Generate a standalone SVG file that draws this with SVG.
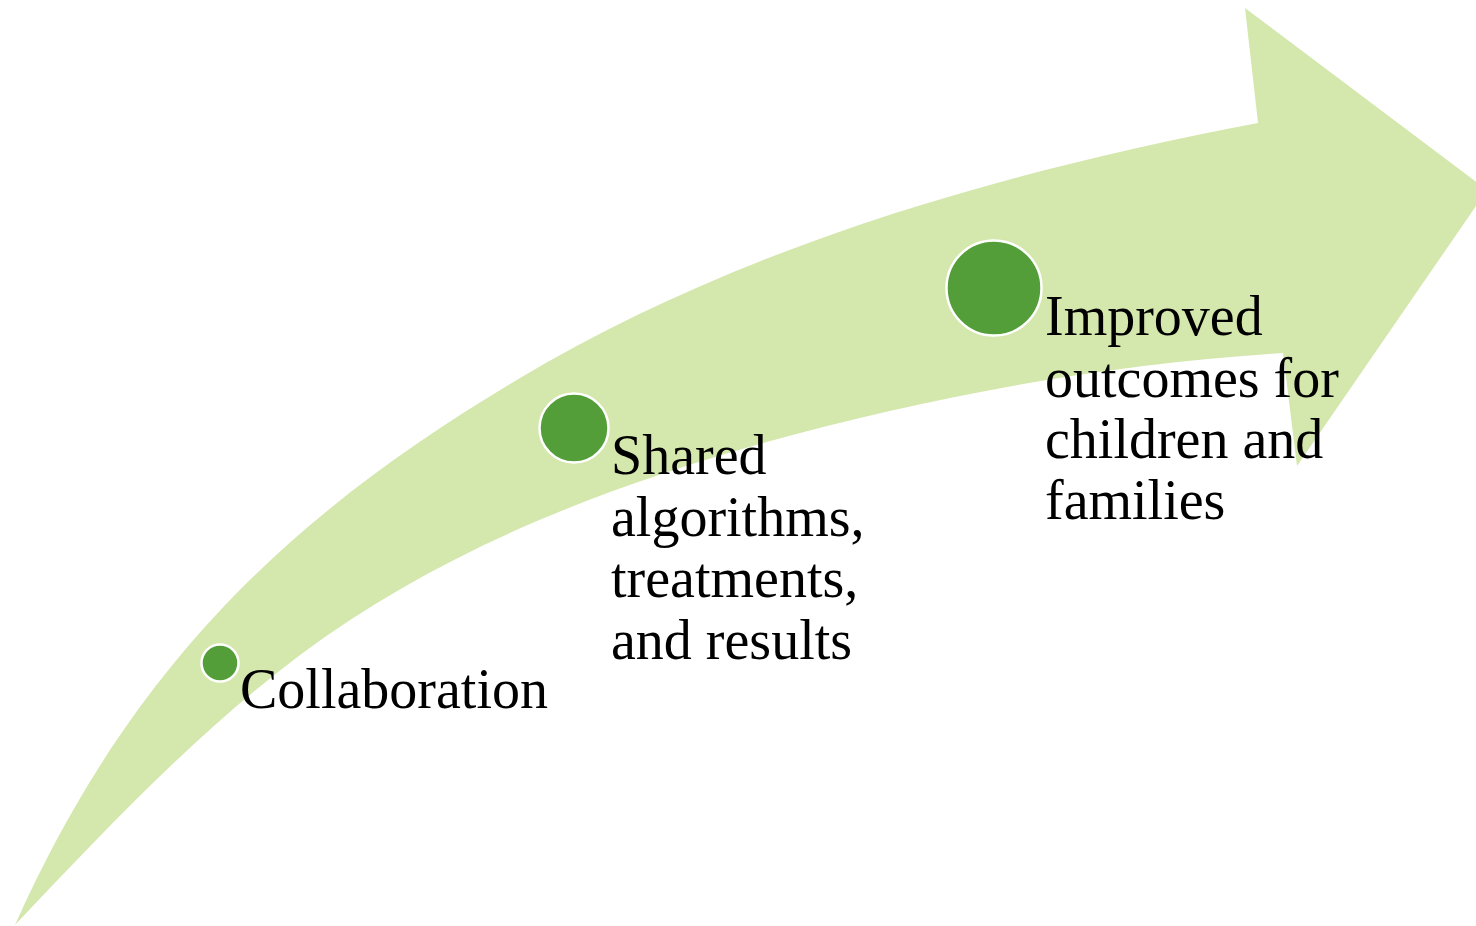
<svg xmlns="http://www.w3.org/2000/svg" width="1476" height="926" viewBox="0 0 1476 926">
  <style>
    .band { fill: #d4e7ac; }
    .dot { fill: #549e39; stroke: #ffffff; stroke-width: 2.5; }
    .label { font-family: "Liberation Serif", "Times New Roman", serif; font-size: 56px; fill: #000000; }
  </style>
  <rect width="1476" height="926" fill="#ffffff"/>

  <!-- Upward curved arrow band -->
  <g id="arrow">
    <path class="band" d="M15,925
      C137,651.5 307.75,504.75 518,379.25
      C728.25,253.75 978,176.5 1258,123
      L1245,8 L1487,190 L1297,466 L1283,353
      C1107,364 932,396 763,443
      C599,489 436,553 300,655
      C195,734 105,830 15,925 Z"/>
  </g>

  <!-- Milestones along the arrow -->
  <g id="step-collaboration">
    <circle class="dot" cx="220" cy="663" r="18.5"/>
    <text class="label" x="240" y="708">Collaboration</text>
  </g>

  <g id="step-shared">
    <circle class="dot" cx="574" cy="428" r="34.5"/>
    <text class="label" x="611" y="474">
      <tspan x="611" y="474">Shared</tspan>
      <tspan x="611" y="535.5">algorithms,</tspan>
      <tspan x="611" y="597">treatments,</tspan>
      <tspan x="611" y="658.5">and results</tspan>
    </text>
  </g>

  <g id="step-outcomes">
    <circle class="dot" cx="994" cy="288" r="47.5"/>
    <text class="label" x="1045" y="335">
      <tspan x="1045" y="335">Improved</tspan>
      <tspan x="1045" y="396.5">outcomes for</tspan>
      <tspan x="1045" y="458">children and</tspan>
      <tspan x="1045" y="519">families</tspan>
    </text>
  </g>
</svg>
